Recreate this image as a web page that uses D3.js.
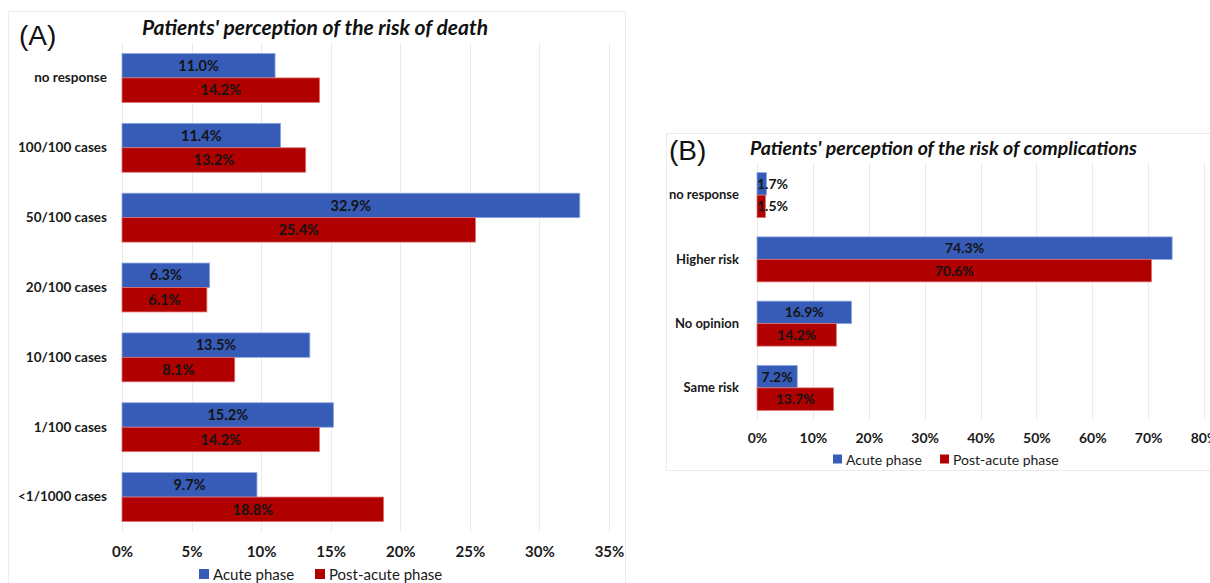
<!DOCTYPE html>
<html>
<head>
<meta charset="utf-8">
<script src="https://cdn.jsdelivr.net/npm/d3@7"></script>
<style>
  body { margin: 0; background: #fff; }
  svg { display: block; font-family: Lato, "Open Sans", sans-serif; }
</style>
</head>
<body>
<svg id="chart" width="1210" height="583"></svg>
<script>
// ---------- Data ----------
const seriesNames = ["Acute phase", "Post-acute phase"];

const deathCategories = ["no response", "100/100 cases", "50/100 cases", "20/100 cases", "10/100 cases", "1/100 cases", "<1/1000 cases"];
const deathAcute = [11.0, 11.4, 32.9, 6.3, 13.5, 15.2, 9.7];
const deathPostAcute = [14.2, 13.2, 25.4, 6.1, 8.1, 14.2, 18.8];
const deathTicks = [0, 5, 10, 15, 20, 25, 30, 35];

const complCategories = ["no response", "Higher risk", "No opinion", "Same risk"];
const complAcute = [1.7, 74.3, 16.9, 7.2];
const complPostAcute = [1.5, 70.6, 14.2, 13.7];
const complTicks = [0, 10, 20, 30, 40, 50, 60, 70, 80];

const colors = ["#365CB8", "#B00000"];
const strokes = ["#8FA8E0", "#E07070"];

const svg = d3.select("#chart");

function drawPanel(cfg) {
  const g = svg.append("g");
  // panel frame
  g.append("rect")
    .attr("x", cfg.frame[0] + 0.5).attr("y", cfg.frame[1] + 0.5)
    .attr("width", cfg.frame[2]).attr("height", cfg.frame[3])
    .attr("fill", "none").attr("stroke", "#ececec").attr("stroke-width", 1);

  const x = d3.scaleLinear().domain([0, d3.max(cfg.ticks)]).range([cfg.left, cfg.right]);
  const y = d3.scaleBand().domain(cfg.categories).range([cfg.top, cfg.bottom]).paddingInner(cfg.pad).paddingOuter(cfg.pad / 2);
  const ys = d3.scaleBand().domain(seriesNames).range([0, y.bandwidth()]);

  // gridlines
  g.append("g").selectAll("line").data(cfg.ticks).join("line")
    .attr("x1", d => Math.round(x(d)) + 0.5).attr("x2", d => Math.round(x(d)) + 0.5)
    .attr("y1", cfg.top).attr("y2", cfg.bottom)
    .attr("stroke", "#ebebeb").attr("stroke-width", 1);

  // x axis labels
  const xAxis = d3.axisBottom(x).tickValues(cfg.ticks).tickFormat(d => d + "%").tickSize(0).tickPadding(0);
  const ax = g.append("g").attr("transform", `translate(0,${cfg.tickY})`).call(xAxis);
  ax.select(".domain").remove();
  ax.selectAll("text").attr("font-size", cfg.fs).attr("font-weight", "bold").attr("fill", "#1a1a1a")
    .attr("font-family", "Lato, sans-serif").attr("dy", "0");

  // y axis labels
  const yAxis = d3.axisLeft(y).tickSize(0).tickPadding(0);
  const ay = g.append("g").attr("transform", `translate(${cfg.catX},0)`).call(yAxis);
  ay.select(".domain").remove();
  ay.selectAll("text").attr("font-size", cfg.catFs).attr("font-weight", "bold").attr("fill", "#1a1a1a")
    .attr("font-family", "Lato, sans-serif");

  // bars
  const rows = cfg.categories.map((c, i) => ({ cat: c, vals: [cfg.a[i], cfg.b[i]] }));
  const grp = g.append("g").selectAll("g").data(rows).join("g")
    .attr("transform", d => `translate(0,${y(d.cat)})`);
  grp.selectAll("rect").data(d => d.vals.map((v, k) => ({ v, k }))).join("rect")
    .attr("x", x(0)).attr("y", d => ys(seriesNames[d.k]))
    .attr("width", d => x(d.v) - x(0)).attr("height", ys.bandwidth())
    .attr("fill", d => colors[d.k]).attr("stroke", d => strokes[d.k]).attr("stroke-width", 0.8);
  grp.selectAll("text").data(d => d.vals.map((v, k) => ({ v, k }))).join("text")
    .attr("y", d => ys(seriesNames[d.k]) + ys.bandwidth() / 2)
    .attr("dy", "0.36em")
    .attr("font-size", cfg.barFs).attr("font-weight", "bold").attr("fill", "#141414")
    .text(d => d.v.toFixed(1) + "%")
    .each(function (d) {
      const w = this.getComputedTextLength();
      const bw = x(d.v) - x(0);
      if (w + 4 > bw) {
        d3.select(this).attr("x", x(0)).attr("text-anchor", "start");
      } else {
        d3.select(this).attr("x", x(0) + bw / 2).attr("text-anchor", "middle");
      }
    });

  // title
  g.append("text").attr("x", cfg.titleX).attr("y", cfg.titleY)
    .attr("font-size", cfg.titleFs).attr("font-weight", "bold").attr("font-style", "italic")
    .attr("fill", "#111").text(cfg.title);
  g.append("text").attr("x", cfg.letterX).attr("y", cfg.letterY)
    .attr("font-size", 28).attr("fill", "#111").attr("font-family", "Liberation Sans, Arial, sans-serif")
    .text(cfg.letter);

  // legend
  const lg = g.append("g").attr("transform", `translate(0,${cfg.legendY})`);
  cfg.legendX.forEach((lx, k) => {
    lg.append("rect").attr("x", lx).attr("y", -cfg.sq / 2 - 1).attr("width", cfg.sq).attr("height", cfg.sq).attr("fill", colors[k]);
    lg.append("text").attr("x", lx + cfg.sq + 4).attr("y", 0).attr("dy", "0.35em")
      .attr("font-size", cfg.legFs).attr("fill", "#1a1a1a").text(seriesNames[k]);
  });
}

drawPanel({
  frame: [8, 11, 617, 600],
  categories: deathCategories, a: deathAcute, b: deathPostAcute, ticks: deathTicks,
  left: 122, right: 609, top: 43, bottom: 532, pad: 0.3,
  tickY: 557, catX: 107, fs: 15, catFs: 13.5, barFs: 14.5,
  title: "Patients' perception of the risk of death", titleX: 142, titleY: 35, titleFs: 21,
  letter: "(A)", letterX: 19, letterY: 45,
  legendX: [199, 315], legendY: 575, sq: 10, legFs: 15
});

drawPanel({
  frame: [666, 133, 600, 337],
  categories: complCategories, a: complAcute, b: complPostAcute, ticks: complTicks,
  left: 757, right: 1204, top: 163, bottom: 420, pad: 0.3,
  tickY: 443, catX: 739, fs: 14, catFs: 13, barFs: 14,
  title: "Patients' perception of the risk of complications", titleX: 750, titleY: 155, titleFs: 19.5,
  letter: "(B)", letterX: 669, letterY: 160,
  legendX: [833, 940], legendY: 460, sq: 9, legFs: 14
});
</script>
</body>
</html>
